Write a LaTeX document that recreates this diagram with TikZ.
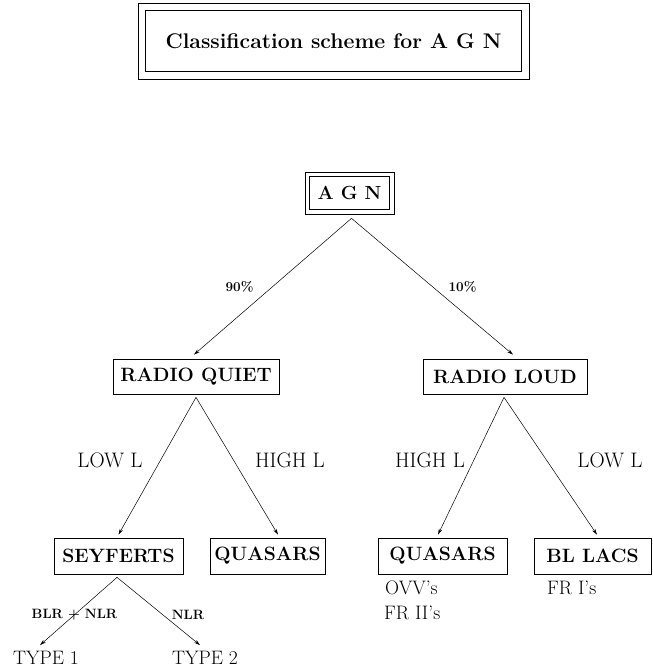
\documentclass[tikz,border=0pt]{standalone}
\usetikzlibrary{arrows.meta}
\tikzset{
  box/.style={draw, line width=0.7pt, inner sep=0pt, minimum height=36pt,
    font=\fontsize{19.3}{22}\selectfont\bfseries},
  outerbox/.style={draw, line width=0.7pt, inner sep=0pt},
  arr/.style={-{Stealth[length=6pt,width=3.5pt]}, line width=0.5pt},
  lbl/.style={inner sep=0pt, font=\fontsize{19.5}{22}\selectfont},
  biglbl/.style={inner sep=0pt, font=\fontsize{21}{24}\selectfont},
  sml/.style={inner sep=0pt, font=\fontsize{13.5}{16}\selectfont\bfseries},
}
\begin{document}
\begin{tikzpicture}[x=1pt,y=-1pt]
\useasboundingbox (0,0) rectangle (652,668);
% title
\node[outerbox, minimum width=391pt, minimum height=76pt,
  font=\fontsize{21.2}{24}\selectfont\bfseries] (title) at (333.5,41)
  {Classification scheme for A G N};
\draw[line width=0.7pt] ([xshift=8pt,yshift=-8pt]title.north west) rectangle ([xshift=-8pt,yshift=8pt]title.south east);
% tree
\node[outerbox, minimum width=89pt, minimum height=42pt,
  font=\fontsize{19}{22}\selectfont\bfseries] (agn) at (349.5,193) {A G N};
\draw[line width=0.7pt] ([xshift=5pt,yshift=-5pt]agn.north west) rectangle ([xshift=-5pt,yshift=5pt]agn.south east);
\node[box, minimum width=166pt, minimum height=35pt] (rq) at (196,376.5) {RADIO QUIET};
\node[box, minimum width=164pt, minimum height=35pt] (rl) at (505,376.5) {RADIO LOUD};
\node[box, minimum width=129pt] (sey) at (118.5,556) {SEYFERTS};
\node[box, minimum width=115pt] (q1) at (267.5,556) {QUASARS};
\node[box, minimum width=129pt] (q2) at (442.5,556) {QUASARS};
\node[box, minimum width=117pt] (bl) at (592.5,556) {BL LACS};
\node[lbl] (t1) at (46,658) {TYPE 1};
\node[lbl] (t2) at (205,658) {TYPE 2};
% edge labels
\node[sml] (l90) at (239.5,287) {90\%};
\node[sml] (l10) at (462.5,287) {10\%};
\node[biglbl] (lowa) at (110,460) {LOW L};
\node[biglbl] (higha) at (290,460) {HIGH L};
\node[biglbl] (highb) at (430,460) {HIGH L};
\node[biglbl] (lowb) at (610,460) {LOW L};
\node[sml] (blr) at (74.5,615) {BLR + NLR};
\node[sml] (nlr) at (188,615) {NLR};
% sub-labels
\node[lbl, anchor=west] (ovv) at (385,588) {OVV's};
\node[lbl, anchor=west] (fr2) at (384,613) {FR II's};
\node[lbl, anchor=west] (fr1) at (547,588) {FR I's};
% connectors
\draw[arr] ([xshift=2pt,yshift=-4pt]agn.south) -- ([xshift=-2pt,yshift=4pt]rq.north);
\draw[arr] ([xshift=2pt,yshift=-4pt]agn.south) -- ([xshift=8pt,yshift=4pt]rl.north);
\draw[arr] ([yshift=-3pt]rq.south) -- ([yshift=3pt]sey.north);
\draw[arr] ([yshift=-3pt]rq.south) -- ([xshift=10.5pt,yshift=3pt]q1.north);
\draw[arr] ([xshift=-1pt,yshift=-3pt]rl.south) -- ([xshift=-4.5pt,yshift=3pt]q2.north);
\draw[arr] ([xshift=-1pt,yshift=-3pt]rl.south) -- ([xshift=4.5pt,yshift=3pt]bl.north);
\draw[arr] ([xshift=-1.5pt,yshift=-3pt]sey.south) -- ([xshift=-6pt,yshift=6pt]t1.north);
\draw[arr] ([xshift=-1.5pt,yshift=-3pt]sey.south) -- ([xshift=-5pt,yshift=6pt]t2.north);
\end{tikzpicture}
\end{document}
